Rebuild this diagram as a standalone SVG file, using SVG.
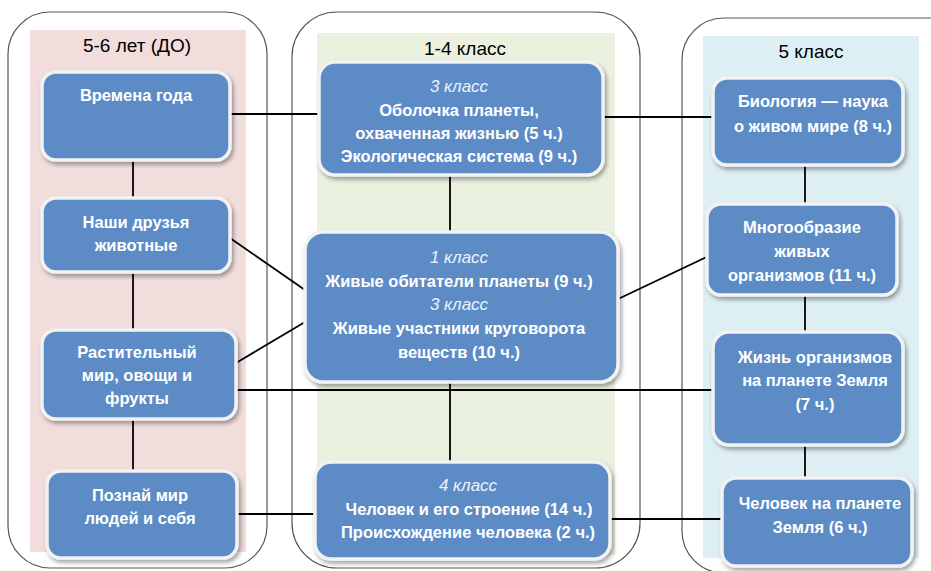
<svg xmlns="http://www.w3.org/2000/svg" width="931" height="571" viewBox="0 0 931 571">
<defs>
<filter id="sh" x="-10%" y="-10%" width="125%" height="130%">
<feDropShadow dx="2" dy="3" stdDeviation="2" flood-color="#000" flood-opacity="0.35"/>
</filter>
<style>
.outer{fill:none;stroke:#555;stroke-width:1.2}
.box{fill:#5B8BC5;stroke:#F2F2F2;stroke-width:3.5;filter:url(#sh)}
.t{font-family:"Liberation Sans",Arial,sans-serif;font-weight:bold;font-size:16.5px;fill:#fff;text-anchor:middle}
.i{font-family:"Liberation Sans",Arial,sans-serif;font-style:italic;font-size:17px;fill:#EEF3FA;text-anchor:middle}
.h{font-family:"Liberation Sans",Arial,sans-serif;font-size:19px;fill:#000;text-anchor:middle}
.c{stroke:#000;stroke-width:1.8;fill:none}
</style>
</defs>
<rect width="931" height="571" fill="#fff"/>
<g id="columns">
<rect x="30" y="30" width="216" height="522" fill="#F2DDDD"/>
<rect x="317" y="33" width="298" height="522" fill="#EBF1DF"/>
<rect x="703" y="36" width="216" height="522" fill="#DEEFF3"/>
<rect class="outer" x="8" y="12" width="259" height="556" rx="42"/>
<rect class="outer" x="292" y="12" width="348" height="556" rx="45"/>
<rect class="outer" x="682" y="18" width="300" height="555" rx="42"/>
<text class="h" x="137" y="52">5-6 лет (ДО)</text>
<text class="h" x="465" y="55">1-4 класс</text>
<text class="h" x="811" y="58">5 класс</text>
</g>
<g id="connectors">
<line class="c" x1="230" y1="114" x2="319" y2="114"/>
<line class="c" x1="603" y1="117" x2="713" y2="117"/>
<line class="c" x1="133" y1="160" x2="133" y2="198"/>
<line class="c" x1="133" y1="272" x2="133" y2="330"/>
<line class="c" x1="133" y1="419" x2="133" y2="471"/>
<line class="c" x1="450" y1="175" x2="450" y2="232"/>
<line class="c" x1="450" y1="382" x2="450" y2="462"/>
<line class="c" x1="805" y1="165" x2="805" y2="204"/>
<line class="c" x1="805" y1="295" x2="805" y2="332"/>
<line class="c" x1="805" y1="445" x2="805" y2="478"/>
<line class="c" x1="230" y1="238" x2="305" y2="290"/>
<line class="c" x1="236" y1="363" x2="305" y2="322"/>
<line class="c" x1="236" y1="390" x2="713" y2="390"/>
<line class="c" x1="616" y1="300" x2="713" y2="254"/>
<line class="c" x1="237" y1="514" x2="315" y2="514"/>
<line class="c" x1="610" y1="519" x2="722" y2="519"/>
</g>
<g id="n1"><rect class="box" x="42" y="72" width="188" height="88" rx="14"/>
<text class="t" x="136" y="101">Времена года</text></g>
<g id="n2"><rect class="box" x="42" y="198" width="188" height="74" rx="14"/>
<text class="t" x="136" y="228">Наши друзья</text><text class="t" x="136" y="251">животные</text></g>
<g id="n3"><rect class="box" x="42" y="330" width="194" height="89" rx="14"/>
<text class="t" x="137" y="358">Растительный</text><text class="t" x="137" y="381">мир, овощи и</text><text class="t" x="137" y="404">фрукты</text></g>
<g id="n4"><rect class="box" x="47" y="471" width="190" height="87" rx="14"/>
<text class="t" x="140" y="501">Познай мир</text><text class="t" x="140" y="524">людей и себя</text></g>
<g id="n5"><rect class="box" x="319" y="62" width="284" height="113" rx="16"/>
<text class="i" x="459" y="92">3 класс</text>
<text class="t" x="459" y="116">Оболочка планеты,</text>
<text class="t" x="459" y="139">охваченная жизнью (5 ч.)</text>
<text class="t" x="459" y="162">Экологическая система (9 ч.)</text></g>
<g id="n6"><rect class="box" x="305" y="232" width="313" height="150" rx="18"/>
<text class="i" x="459" y="263">1 класс</text>
<text class="t" x="459" y="287">Живые обитатели планеты (9 ч.)</text>
<text class="i" x="459" y="310">3 класс</text>
<text class="t" x="459" y="334">Живые участники круговорота</text>
<text class="t" x="459" y="358">веществ (10 ч.)</text></g>
<g id="n7"><rect class="box" x="315" y="462" width="295" height="97" rx="16"/>
<text class="i" x="468" y="491">4 класс</text>
<text class="t" x="469" y="515">Человек и его строение (14 ч.)</text>
<text class="t" x="468" y="538">Происхождение человека (2 ч.)</text></g>
<g id="n8"><rect class="box" x="713" y="78" width="190" height="87" rx="14"/>
<text class="t" x="813" y="107">Биология — наука</text><text class="t" x="813" y="132">о живом мире (8 ч.)</text></g>
<g id="n9"><rect class="box" x="707" y="204" width="190" height="91" rx="14"/>
<text class="t" x="802" y="233">Многообразие</text><text class="t" x="802" y="257">живых</text><text class="t" x="802" y="281">организмов (11 ч.)</text></g>
<g id="n10"><rect class="box" x="713" y="332" width="190" height="113" rx="16"/>
<text class="t" x="815" y="363">Жизнь организмов</text><text class="t" x="815" y="386">на планете Земля</text><text class="t" x="815" y="410">(7 ч.)</text></g>
<g id="n11"><rect class="box" x="722" y="478" width="190" height="88" rx="14"/>
<text class="t" x="820" y="509">Человек на планете</text><text class="t" x="820" y="533">Земля (6 ч.)</text></g>
</svg>
